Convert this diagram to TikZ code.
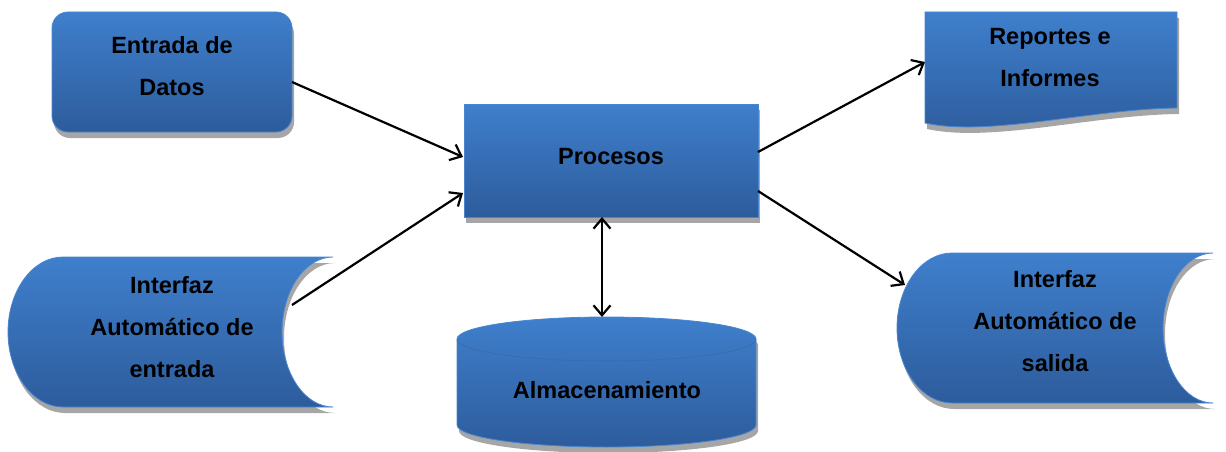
\documentclass[tikz,border=0pt]{standalone}
\usepackage{fontspec}
\setmainfont{Liberation Sans}
\usetikzlibrary{calc,arrows.meta}
\definecolor{color_box_top}{HTML}{3F7FCC}
\definecolor{color_box_bottom}{HTML}{2D5C9C}
\definecolor{color_box_edge}{HTML}{4A86D0}
\definecolor{color_shadow}{HTML}{A6A6A6}

\begin{document}
\begin{tikzpicture}[x=1pt,y=1pt,
		every node/.style={font=\fontsize{23.5}{42}\selectfont\bfseries,align=center},
		box/.style={top color=color_box_top,bottom color=color_box_bottom,
			draw=color_box_edge,line width=0.8pt,
			preaction={fill=color_shadow,transform canvas={shift={(2pt,-6pt)}}}},
		link/.style={line width=2.2pt,-{Straight Barb[length=10pt,width=17pt]}},
		linkboth/.style={line width=2.2pt,{Straight Barb[length=10pt,width=17pt]}-{Straight Barb[length=10pt,width=17pt]}}]
	\useasboundingbox (0, 0) rectangle (1226, 451);

	% Rounded input box
	\path[box,rounded corners=16pt] (52, 319) rectangle (292, 439);
	\node (entrada) at (172, 385) {Entrada de\\Datos};

	% Process box
	\path[box] (464, 234) rectangle (758, 347);
	\node (procesos) at (611, 294) {Procesos};

	% Document with wavy bottom
	\path[box] (925, 439) -- (1177, 439) -- (1177, 343)
		.. controls (1090, 342) and (990, 314) .. (925, 328) -- cycle;
	\node (reportes) at (1050, 393) {Reportes e\\Informes};

	% Stored data, input side
	\path[box] (63, 194) -- (333, 194)
		arc[start angle=90, end angle=270, x radius=51, y radius=75]
		-- (63, 44)
		arc[start angle=270, end angle=90, x radius=55, y radius=75]
		-- cycle;
	\node (interfaz_in) at (172, 124) {Interfaz\\Automático de\\entrada};

	% Stored data, output side
	\path[box] (952, 198) -- (1213, 198)
		arc[start angle=90, end angle=270, x radius=50, y radius=75]
		-- (952, 48)
		arc[start angle=270, end angle=90, x radius=55, y radius=75]
		-- cycle;
	\node (interfaz_out) at (1055, 130) {Interfaz\\Automático de\\salida};

	% Cylinder
	\path[box] (457, 112) -- (457, 26)
		arc[start angle=180, end angle=360, x radius=149.5, y radius=22]
		-- (756, 112)
		arc[start angle=0, end angle=180, x radius=149.5, y radius=22]
		-- cycle;
	\draw[color_box_top!85!black, line width=0.6pt] (457, 112)
		arc[start angle=180, end angle=360, x radius=149.5, y radius=22];
	\node (almacen) at (607, 61) {Almacenamiento};

	% Connector ends
	\coordinate (ED) at (292, 369);
	\coordinate (EI) at (292, 146);
	\coordinate (PL1) at (463, 294);
	\coordinate (PL2) at (463, 258);
	\coordinate (PR1) at (758, 299);
	\coordinate (PR2) at (758, 260);
	\coordinate (PB) at (602, 234);
	\coordinate (RL) at (925, 389);
	\coordinate (SL) at (905, 166);
	\coordinate (AT) at (602, 134);

	% Arrows
	\draw[link] (ED) -- (PL1);
	\draw[link] (EI) -- (PL2);
	\draw[link] (PR1) -- (RL);
	\draw[link] (PR2) -- (SL);
	\draw[linkboth] (PB) -- (AT);
\end{tikzpicture}
\end{document}
